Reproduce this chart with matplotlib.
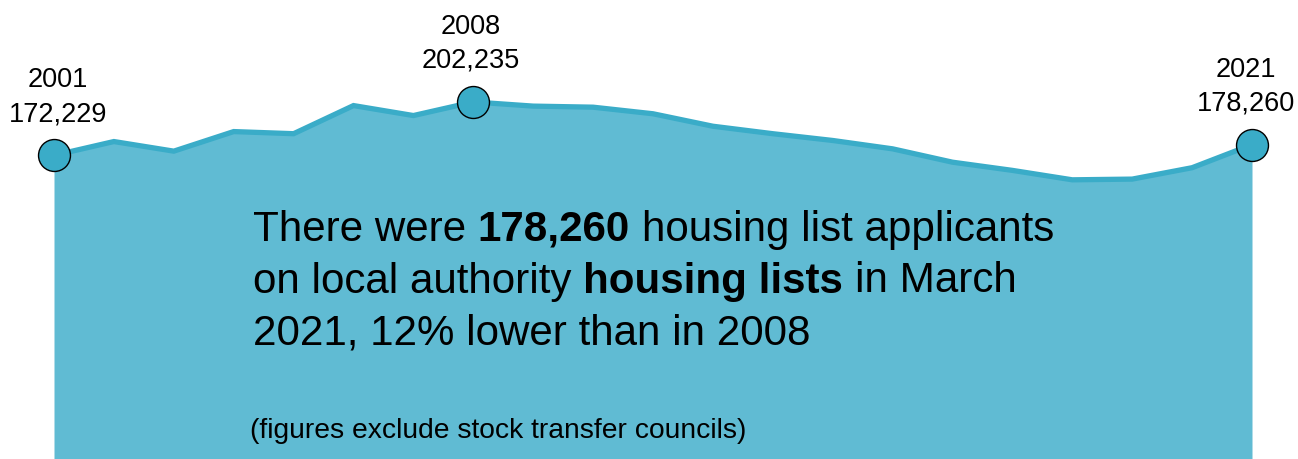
import matplotlib
matplotlib.use("Agg")
import matplotlib.pyplot as plt

# Housing list applicants, March of each year
years = list(range(2001, 2022))
applicants = [172229, 180000, 174600, 185600, 184400, 200200, 194600, 202235,
              199900, 199300, 195600, 188600, 184400, 180600, 175900, 168400,
              163800, 158500, 158900, 165300, 178260]
highlight_years = [2001, 2008, 2021]
label_dx = [4, -3, -6]  # horizontal nudge of each callout, in pixels

line_col = "#3aacc8"
fill_col = "#60bbd3"

plt.rcParams["font.family"] = ["Liberation Sans", "DejaVu Sans"]

W, H = 1298, 459
fig = plt.figure(figsize=(W / 100, H / 100), dpi=100)
fig.patch.set_facecolor("white")

ax_left, ax_right = 54 / W, 1252 / W
ax = fig.add_axes([ax_left, -3 / H, ax_right - ax_left, 1 + 3 / H])
ax.set_xlim(years[0], years[-1])
ax.set_ylim(0, 259500)
ax.axis("off")

ax.fill_between(years, applicants, 0, color=fill_col, lw=0, zorder=1)
ax.plot(years, applicants, color=line_col, lw=3.8, solid_joinstyle="miter",
        zorder=2, clip_on=False)

for yr, dx in zip(highlight_years, label_dx):
    v = applicants[years.index(yr)]
    ax.plot([yr], [v], "o", ms=23, mfc=line_col, mec="black", mew=1.0,
            zorder=3, clip_on=False)
    ax.annotate(f"{v:,}", (yr, v), xytext=(dx, 34), textcoords="offset pixels",
                ha="center", va="baseline", fontsize=19.5, color="black",
                annotation_clip=False)
    ax.annotate(str(yr), (yr, v), xytext=(dx, 68), textcoords="offset pixels",
                ha="center", va="baseline", fontsize=19.5, color="black",
                annotation_clip=False)

# Headline text with bold highlights, laid out piece by piece
fs_main = 30.3
renderer = fig.canvas.get_renderer()
space_px = 0.278 * fs_main * 100 / 72


def write_line(pieces, x_px, base_px):
    x = x_px
    for txt, bold in pieces:
        t = fig.text(x / W, 1 - base_px / H, txt, fontsize=fs_main,
                     fontweight="bold" if bold else "normal",
                     ha="left", va="baseline", color="black")
        bb = t.get_window_extent(renderer)
        x += bb.width + space_px


lines = [
    [("There were", False), ("178,260", True), ("housing list applicants", False)],
    [("on local authority", False), ("housing lists", True), ("in March", False)],
    [("2021, 12% lower than in 2008", False)],
]
for i, pieces in enumerate(lines):
    write_line(pieces, 253, 241 + i * 51.5)

fig.text(250 / W, 1 - 438 / H, "(figures exclude stock transfer councils)",
         fontsize=20.3, ha="left", va="baseline", color="black")

fig.savefig("out.png", dpi=100, facecolor="white")
